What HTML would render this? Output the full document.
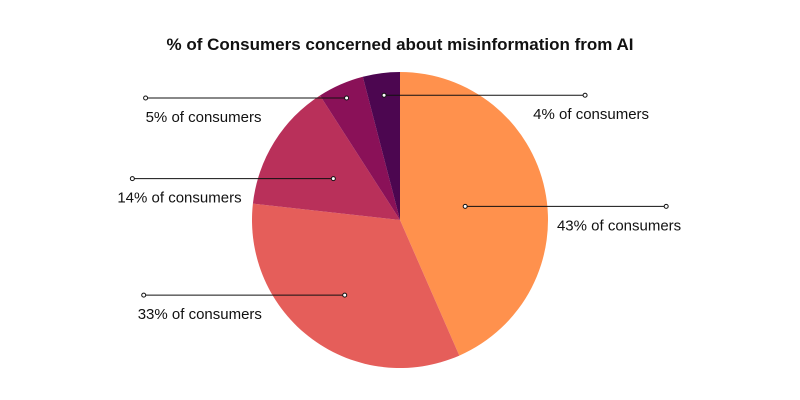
<!DOCTYPE html>
<html><head><meta charset="utf-8"><style>
html,body{margin:0;padding:0;background:#fff;}
svg{display:block;font-family:"Liberation Sans",sans-serif;}
</style></head><body>
<svg id="chart" width="800" height="400">
<text x="400" y="50" text-anchor="middle" font-size="17" font-weight="bold" fill="#111">% of Consumers concerned about misinformation from AI</text>
<g id="slices"></g><g id="labels"></g>
</svg>
<script>
const categories=["43% of consumers","33% of consumers","14% of consumers","5% of consumers","4% of consumers"];
const values=[43,33,14,5,4];
const colors=["#FF914D","#E55E5A","#B9305A","#8A1158","#4C0650"];
// layout only
const dotR=[0.45,0.63,0.53,0.9,0.85];
const sides=[1,-1,-1,-1,1];
const labelDx=[15,-6,-15,0,64];
const cx=400,cy=220,r=148;
const total=values.reduce((a,b)=>a+b,0);
const ns="http://www.w3.org/2000/svg";
const sG=document.getElementById('slices'),lG=document.getElementById('labels');
function pt(a,rr){return [cx+rr*Math.sin(a),cy-rr*Math.cos(a)];}
let acc=0;
values.forEach((v,i)=>{
 const a0=acc/total*2*Math.PI;acc+=v;const a1=acc/total*2*Math.PI;
 const p0=pt(a0,r),p1=pt(a1,r);
 const p=document.createElementNS(ns,'path');
 p.setAttribute('d',`M${cx},${cy}L${p0[0]},${p0[1]}A${r},${r} 0 ${a1-a0>Math.PI?1:0} 1 ${p1[0]},${p1[1]}Z`);
 p.setAttribute('fill',colors[i]);
 
 
 sG.appendChild(p);
 const am=(a0+a1)/2;
 const d=pt(am,r*dotR[i]);
 const right=sides[i]>0;
 const ex=right?d[0]+201:d[0]-201;
 const ln=document.createElementNS(ns,'line');
 ln.setAttribute('x1',d[0]);ln.setAttribute('y1',d[1]);ln.setAttribute('x2',ex);ln.setAttribute('y2',d[1]);
 ln.setAttribute('stroke','#111');ln.setAttribute('stroke-width','1');
 
 
 lG.appendChild(ln);
 [[d[0],d[1]],[ex,d[1]]].forEach(c=>{
  const ci=document.createElementNS(ns,'circle');
  ci.setAttribute('cx',c[0]);ci.setAttribute('cy',c[1]);ci.setAttribute('r','2');
  ci.setAttribute('fill','#fff');ci.setAttribute('stroke','#111');
  
  
  lG.appendChild(ci);
 });
 const t=document.createElementNS(ns,'text');
 t.setAttribute('x',ex+labelDx[i]);t.setAttribute('y',d[1]+24);
 t.setAttribute('text-anchor',right?'end':'start');
 t.setAttribute('font-size','15');t.setAttribute('fill','#111');
 t.textContent=categories[i];
 
 
 lG.appendChild(t);
});
</script>
</body></html>
